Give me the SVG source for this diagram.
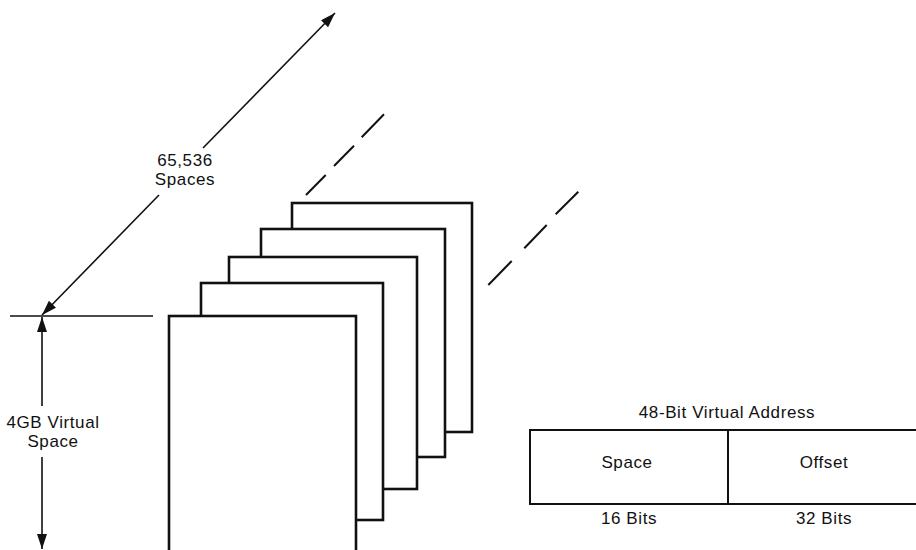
<svg xmlns="http://www.w3.org/2000/svg" width="916" height="550" viewBox="0 0 916 550">
<style>
.t{font-family:"Liberation Sans",Arial,sans-serif;font-size:17px;fill:#111;text-anchor:middle;letter-spacing:0.6px}
.ln{stroke:#111;stroke-width:1.6;fill:none}
.pg{stroke:#111;stroke-width:2.6;fill:#fff}
.bx{stroke:#111;stroke-width:2;fill:none}
</style>
<defs>
<marker id="ah" markerUnits="userSpaceOnUse" markerWidth="16" markerHeight="12" refX="15" refY="5" orient="auto">
<path d="M0,0 L15,5 L0,10 Z" fill="#111"/>
</marker>
</defs>
<rect width="916" height="550" fill="#fff"/>
<g id="pages">
<g id="page5"><rect class="pg" x="292" y="203" width="180" height="229"/></g>
<g id="page4"><rect class="pg" x="261" y="229" width="184" height="228"/></g>
<g id="page3"><rect class="pg" x="229" y="257" width="188" height="232"/></g>
<g id="page2"><rect class="pg" x="201" y="283" width="182" height="237"/></g>
<g id="page1"><rect class="pg" x="169" y="316" width="187" height="250"/></g>
</g>
<g id="connectors">
<line class="ln" x1="10" y1="316" x2="153" y2="316"/>
<line class="ln" x1="203" y1="148" x2="335" y2="13" marker-end="url(#ah)"/>
<line class="ln" x1="159" y1="195" x2="42" y2="315" marker-end="url(#ah)"/>
<line class="ln" x1="42" y1="406" x2="42" y2="317" marker-end="url(#ah)"/>
<line class="ln" x1="42" y1="457" x2="42" y2="549" marker-end="url(#ah)"/>
<g id="dash1" class="ln" style="stroke-width:2">
<line x1="306" y1="195" x2="325.7" y2="175"/>
<line x1="334" y1="166" x2="354" y2="145.7"/>
<line x1="361.7" y1="137.3" x2="384" y2="114.3"/>
</g>
<g id="dash2" class="ln" style="stroke-width:2">
<line x1="488.3" y1="285" x2="511.7" y2="261"/>
<line x1="524.3" y1="248.3" x2="546.7" y2="225"/>
<line x1="555.7" y1="214.3" x2="578.3" y2="191.7"/>
</g>
</g>
<g id="labels">
<text class="t" x="185" y="166">65,536</text>
<text class="t" x="185" y="185">Spaces</text>
<text class="t" x="53" y="428">4GB Virtual</text>
<text class="t" x="53" y="447">Space</text>
</g>
<g id="address">
<text class="t" x="727" y="418">48-Bit Virtual Address</text>
<path class="bx" d="M917,430 H530 V504 H917 M728,430 V504"/>
<g id="space-field"><text class="t" x="627" y="468">Space</text></g>
<g id="offset-field"><text class="t" x="824" y="468">Offset</text></g>
<text class="t" x="629" y="524">16 Bits</text>
<text class="t" x="824" y="524">32 Bits</text>
</g>
</svg>
